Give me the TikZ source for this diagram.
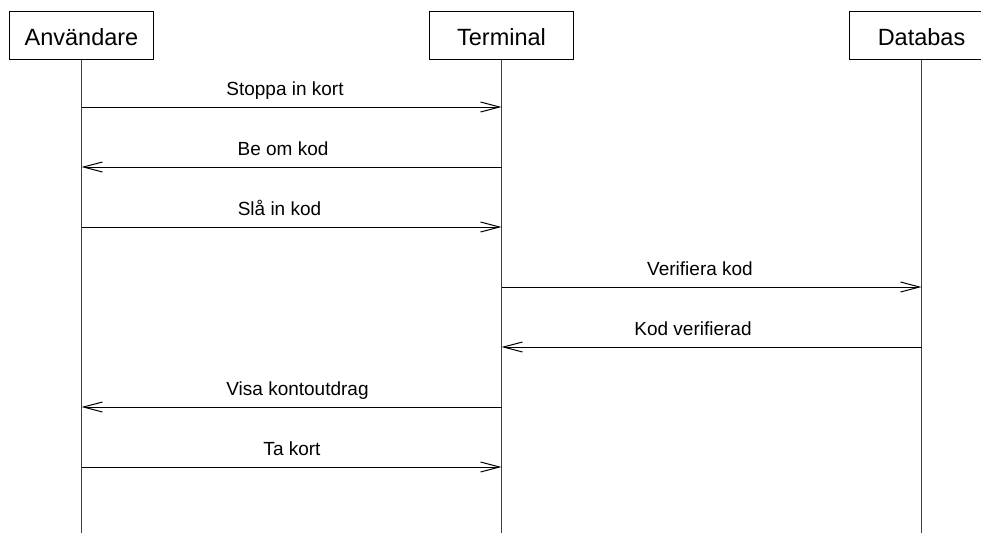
\documentclass[tikz,border=0pt]{standalone}
\usepackage{fontspec}
\setmainfont{Liberation Sans}
\usetikzlibrary{arrows.meta}
\begin{document}
\begin{tikzpicture}[x=1pt,y=-1pt,
  actor/.style={draw,line width=1pt,minimum width=144pt,minimum height=48pt,
    inner sep=0pt,font=\fontsize{23.5}{28}\selectfont,text depth=0pt},
  lifeline/.style={line width=1pt,draw=black!75},
  msg/.style={line width=1pt,-{Straight Barb[length=19pt,width=10pt,line width=1pt]}},
  lbl/.style={anchor=base,inner sep=0pt,font=\fontsize{19}{23}\selectfont}]
\useasboundingbox (0,0) rectangle (981,533);
\clip (0,0) rectangle (981,533);

% participants
\node[actor] (A) at (81.5,35) {\raisebox{-3pt}{Användare}};
\node[actor] (T) at (501.5,35) {\raisebox{-3pt}{Terminal}};
\node[actor] (D) at (921.5,35) {\raisebox{-3pt}{Databas}};

% lifeline ends
\coordinate (Aend) at (81.5,533);
\coordinate (Tend) at (501.5,533);
\coordinate (Dend) at (921.5,533);
\draw[lifeline] (A.south) -- (Aend);
\draw[lifeline] (T.south) -- (Tend);
\draw[lifeline] (D.south) -- (Dend);

% message points on the lifelines
\foreach \n/\y in {1/107,2/167,3/227,4/287,5/347,6/407,7/467}{
  \coordinate (A\n) at (81.5,\y);
  \coordinate (T\n) at (501.5,\y);
  \coordinate (D\n) at (921.5,\y);
}

% messages
\draw[msg] (A1) -- (T1);
\node[lbl] (m1) at (285,95.5) {Stoppa in kort};
\draw[msg] (T2) -- (A2);
\node[lbl] (m2) at (283,155.5) {Be om kod};
\draw[msg] (A3) -- (T3);
\node[lbl] (m3) at (279.5,215.5) {Slå in kod};
\draw[msg] (T4) -- (D4);
\node[lbl] (m4) at (700,275.5) {Verifiera kod};
\draw[msg] (D5) -- (T5);
\node[lbl] (m5) at (693,335.5) {Kod verifierad};
\draw[msg] (T6) -- (A6);
\node[lbl] (m6) at (297.5,395.5) {Visa kontoutdrag};
\draw[msg] (A7) -- (T7);
\node[lbl] (m7) at (292,455.5) {Ta kort};
\end{tikzpicture}
\end{document}
